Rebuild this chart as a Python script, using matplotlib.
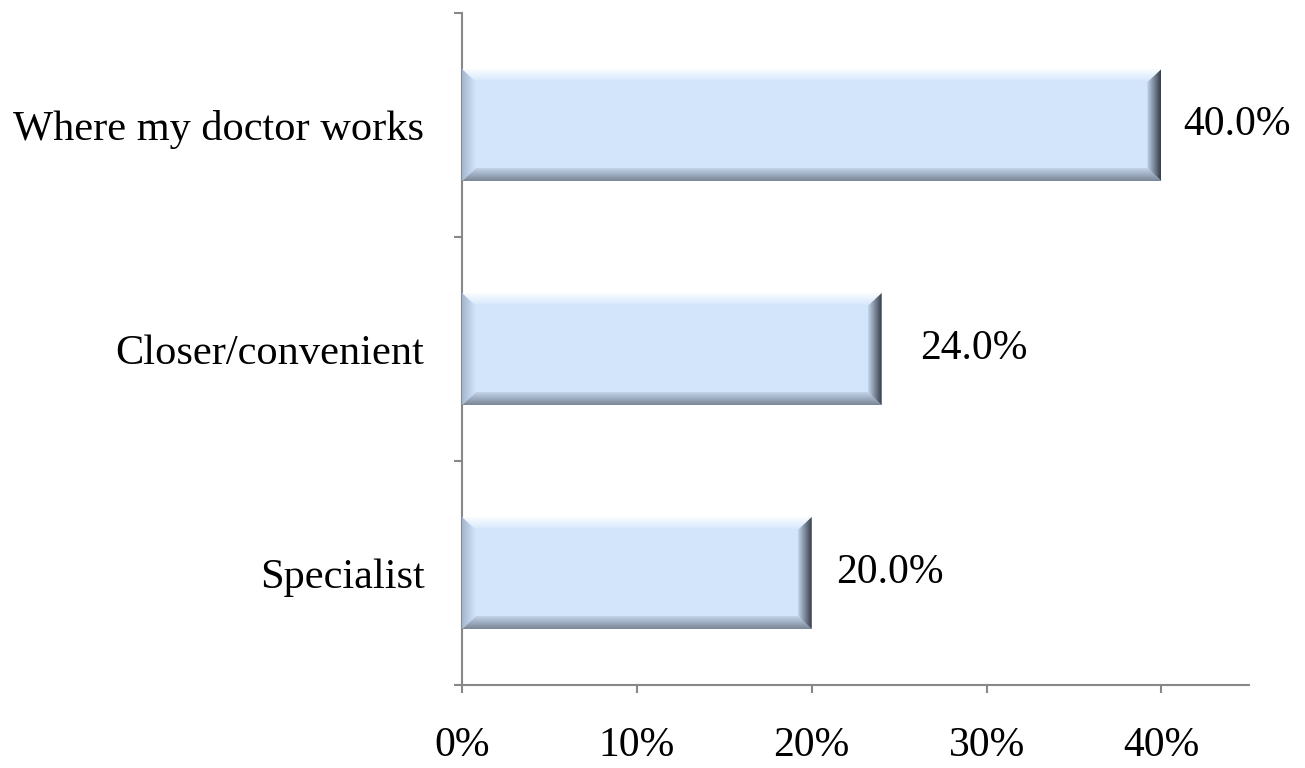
import matplotlib.pyplot as plt
import numpy as np
from matplotlib.colors import LinearSegmentedColormap
from matplotlib.patches import Polygon

categories = ["Specialist", "Closer/convenient", "Where my doctor works"]
values = [20.0, 24.0, 40.0]
xticks = [0, 10, 20, 30, 40]

# gap between bar end and its value label, in pixels (as in the original)
label_gap_px = [24, 38, 22]

plt.rcParams["font.family"] = ["Liberation Serif", "DejaVu Serif"]

fig = plt.figure(figsize=(13.05, 7.68), dpi=100)
ax = fig.add_axes([0.354, 0.108, 0.603, 0.875])

xmax = 45
ax.set_xlim(0, xmax)
ax.set_ylim(-0.5, len(categories) - 0.5)

body = "#d3e5fb"
bar_h = 0.5

# pixel size in data units
ax_w_px = fig.get_figwidth() * fig.dpi * 0.603
ax_h_px = fig.get_figheight() * fig.dpi * 0.875
px_x = xmax / ax_w_px
px_y = len(categories) / ax_h_px


def face(poly, c0, c1, horizontal):
    # bevel face filled with a linear gradient from c0 (left/bottom) to c1
    patch = Polygon(poly, closed=True, facecolor="none", edgecolor="none")
    ax.add_patch(patch)
    xs = [p[0] for p in poly]
    ys = [p[1] for p in poly]
    cmap = LinearSegmentedColormap.from_list("f", [c0, c1])
    grad = np.linspace(0, 1, 64)
    img = grad[None, :] if horizontal else grad[:, None]
    im = ax.imshow(img, cmap=cmap, aspect="auto", origin="lower",
                   extent=[min(xs), max(xs), min(ys), max(ys)],
                   interpolation="bilinear", zorder=3)
    im.set_clip_path(patch)


for i, (cat, v) in enumerate(zip(categories, values)):
    x0, x1 = 0, v
    y0, y1 = i - bar_h / 2, i + bar_h / 2
    bx = 14 * px_x
    by = 13 * px_y
    ax.add_patch(plt.Rectangle((x0, y0), x1 - x0, y1 - y0,
                               facecolor=body, edgecolor="none", zorder=2))
    # top bevel (light)
    face([(x0, y1), (x1, y1), (x1 - bx, y1 - by), (x0 + bx, y1 - by)],
         body, "#fafdff", False)
    # bottom bevel (dark)
    face([(x0, y0), (x1, y0), (x1 - bx, y0 + by), (x0 + bx, y0 + by)],
         "#7a8697", "#c2d3e8", False)
    # left bevel
    face([(x0, y0), (x0, y1), (x0 + bx, y1 - by), (x0 + bx, y0 + by)],
         "#a3b6cd", body, True)
    # right bevel
    face([(x1, y0), (x1, y1), (x1 - bx, y1 - by), (x1 - bx, y0 + by)],
         "#c3d4ea", "#363d48", True)
    ax.text(v + label_gap_px[i] * px_x, i, f"{v:.1f}%", va="center",
            ha="left", fontsize=30, color="black")

ax.set_yticks(np.arange(len(categories)))
ax.set_yticklabels(categories, fontsize=30.5)
ax.set_yticks(np.arange(len(categories) + 1) - 0.5, minor=True)
ax.tick_params(axis="y", which="major", length=0, pad=27)
ax.tick_params(axis="y", which="minor", length=6, width=1.5, color="#888888")

ax.set_xticks(xticks)
ax.set_xticklabels([f"{t}%" for t in xticks], fontsize=30)
ax.tick_params(axis="x", length=6, width=1.5, color="#888888", pad=24)

for side in ["top", "right"]:
    ax.spines[side].set_visible(False)
for side in ["left", "bottom"]:
    ax.spines[side].set_color("#888888")
    ax.spines[side].set_linewidth(1.5)

fig.savefig("out.png", dpi=100)
